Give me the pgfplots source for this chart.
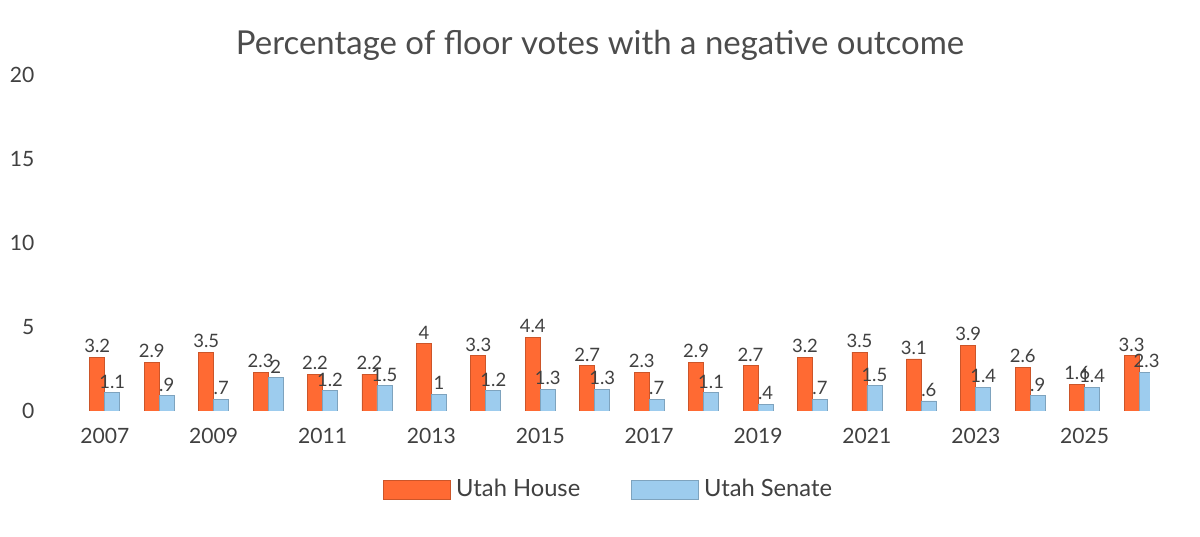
\documentclass[border=0pt]{standalone}
\usepackage{pgfplots}
\pgfplotsset{compat=1.18}
\usepackage{fontspec}
\setmainfont{Lato}
\definecolor{house}{HTML}{FF6A33}
\definecolor{senate}{HTML}{9DCCEE}
\begin{document}
\begin{tikzpicture}
\path[use as bounding box] (-0.933,-1.667) rectangle (15.067,5.48);
\node[text=black!70, font=\fontsize{12.5}{15}\selectfont] at (7.067,4.88) {Percentage of floor votes with a negative outcome};
\begin{axis}[
  at={(0,0)}, anchor=south west,
  scale only axis, width=14.4cm, height=4.48cm,
  xmin=-0.64, xmax=19.2, ymin=0, ymax=20,
  axis line style={draw=none}, major tick length=0pt,
  ybar=0pt, bar width=0.2cm,
  ytick={0,5,10,15,20},
  xtick={0,2,...,18}, xticklabels={2007,2009,2011,2013,2015,2017,2019,2021,2023,2025},
  ticklabel style={font=\fontsize{8}{10}\selectfont, text=black!75},
  /pgf/number format/assume math mode=true,
  yticklabel style={xshift=-0.35cm},
  xticklabel style={yshift=-0.1cm},
  point meta=explicit symbolic,
  nodes near coords,
  every node near coord/.append style={font=\fontsize{7}{9}\selectfont, text=black!75, inner sep=1.5pt},
  legend style={at={(0.5,-0.17)}, anchor=north, draw=none, legend columns=2,
    font=\fontsize{9}{11}\selectfont, text=black!75,
    /tikz/every even column/.append style={column sep=0.6cm}},
  legend image code/.code={\fill[#1] (0cm,-0.13cm) rectangle (0.9cm,0.13cm);},
]
\addplot[fill=house, draw=house!80!black, line width=0.3pt] coordinates {
(0,3.2)[3.2] (1,2.9)[2.9] (2,3.5)[3.5] (3,2.3)[2.3] (4,2.2)[2.2] (5,2.2)[2.2] (6,4)[4] (7,3.3)[3.3] (8,4.4)[4.4] (9,2.7)[2.7]
(10,2.3)[2.3] (11,2.9)[2.9] (12,2.7)[2.7] (13,3.2)[3.2] (14,3.5)[3.5] (15,3.1)[3.1] (16,3.9)[3.9] (17,2.6)[2.6] (18,1.6)[1.6] (19,3.3)[3.3]};
\addplot[fill=senate, draw=senate!80!black, line width=0.3pt] coordinates {
(0,1.1)[1.1] (1,0.9)[.9] (2,0.7)[.7] (3,2)[2] (4,1.2)[1.2] (5,1.5)[1.5] (6,1)[1] (7,1.2)[1.2] (8,1.3)[1.3] (9,1.3)[1.3]
(10,0.7)[.7] (11,1.1)[1.1] (12,0.4)[.4] (13,0.7)[.7] (14,1.5)[1.5] (15,0.6)[.6] (16,1.4)[1.4] (17,0.9)[.9] (18,1.4)[1.4] (19,2.3)[2.3]};
\legend{Utah House, Utah Senate}
\end{axis}
\end{tikzpicture}
\end{document}
